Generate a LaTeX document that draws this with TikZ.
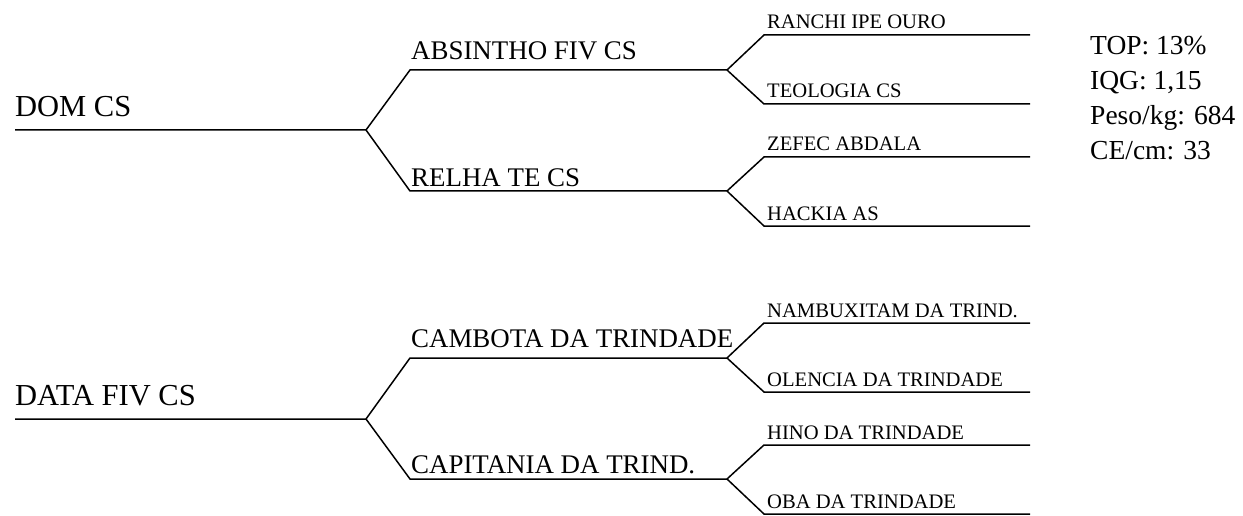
\documentclass[tikz,border=0pt]{standalone}
\usepackage{fontspec}
\setmainfont{Liberation Serif}
\usepackage{tikz}
\usetikzlibrary{positioning}

\begin{document}
\begin{tikzpicture}[x=1pt, y=-1pt,
  branch/.style={black, line width=1.5pt},
  rootlbl/.style={anchor=base west, inner sep=0pt, font=\fontsize{30.5}{32}\selectfont},
  midlbl/.style={anchor=base west, inner sep=0pt, font=\fontsize{26.9}{30}\selectfont},
  leaflbl/.style={anchor=base west, inner sep=0pt, font=\fontsize{20.6}{22}\selectfont},
  infolbl/.style={anchor=base west, inner sep=0pt, font=\fontsize{27.5}{30}\selectfont}]
\useasboundingbox (0,0) rectangle (1243,516);

% first cross
\coordinate (dom0) at (15,130);  \coordinate (dom1) at (366,130);
\coordinate (abs0) at (410,70);  \coordinate (abs1) at (727,70);
\coordinate (rel0) at (410,191); \coordinate (rel1) at (727,191);
\node[rootlbl] (domcs) at (15,117) {DOM CS};
\node[midlbl] (absintho) at (411,60) {ABSINTHO FIV CS};
\node[midlbl] (relha) at (411,186) {RELHA TE CS};
\draw[branch] (dom0) -- (dom1) -- (abs0) -- (abs1);
\draw[branch] (dom1) -- (rel0) -- (rel1);

% second cross
\coordinate (dat0) at (15,419);  \coordinate (dat1) at (366,419);
\coordinate (cam0) at (410,358); \coordinate (cam1) at (727,358);
\coordinate (cap0) at (410,479); \coordinate (cap1) at (727,479);
\node[rootlbl] (datafiv) at (15,405) {DATA FIV CS};
\node[midlbl] (cambota) at (411,347) {CAMBOTA DA TRINDADE};
\node[midlbl] (capitania) at (411,473) {CAPITANIA DA TRIND.};
\draw[branch] (dat0) -- (dat1) -- (cam0) -- (cam1);
\draw[branch] (dat1) -- (cap0) -- (cap1);

% offspring
\foreach \up/\nm/\py/\txt in {abs1/ranchi/35/{RANCHI IPE OURO},
    abs1/teologia/104/{TEOLOGIA CS}, rel1/zefec/157/{ZEFEC ABDALA},
    rel1/hackia/226/{HACKIA AS}, cam1/nambux/323/{NAMBUXITAM DA TRIND.},
    cam1/olencia/392/{OLENCIA DA TRINDADE}, cap1/hino/445/{HINO DA TRINDADE},
    cap1/oba/514/{OBA DA TRINDADE}}{
  \coordinate (\nm0) at (764,\py);
  \coordinate (\nm1) at (1030,\py);
  \node[leaflbl] (\nm) at (767,{\py-6}) {\txt};
  \draw[branch] (\up) -- (\nm0) -- (\nm1);
}

% indices
\node[infolbl] (top) at (1090,55) {TOP: 13\%};
\node[infolbl] (iqg) at (1090,90) {IQG: 1,15};
\node[infolbl] (peso) at (1090,125) {Peso/kg: 684};
\node[infolbl] (ce) at (1090,160) {CE/cm: 33};
\end{tikzpicture}
\end{document}
